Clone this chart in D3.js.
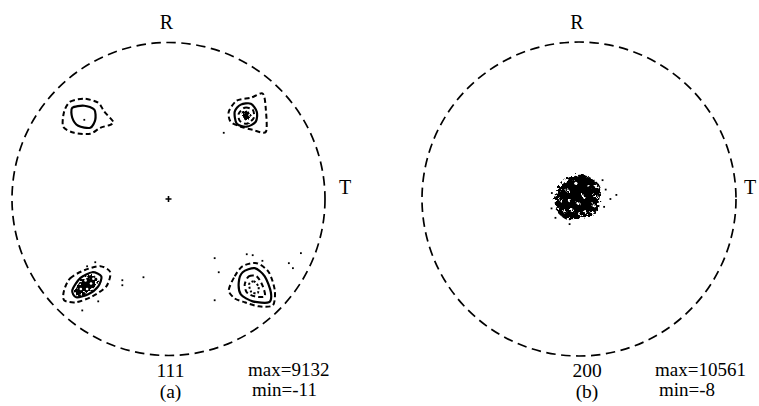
<!DOCTYPE html>
<html>
<head>
<meta charset="utf-8">
<script src="https://cdn.jsdelivr.net/npm/d3@7"></script>
<style>
  body { margin: 0; background: #fff; }
  text { font-family: "Liberation Serif", "Times New Roman", serif; fill: #000; }
</style>
</head>
<body>
<svg id="chart" width="759" height="406"></svg>
<script>
// ---- data (pole figure coordinates, unit circle, y pointing down) ----
const panels = ["a", "b"]
const poleLabels = ["111", "200"]
const panelLabels = ["(a)", "(b)"]
const maxValues = [9132, 10561]
const minValues = [-11, -8]
const axisLabels = ["R", "T"]

// {111} contours, panel (a)
const ulOuter = [[-0.667,-0.558],[-0.628,-0.622],[-0.538,-0.641],[-0.449,-0.615],[-0.410,-0.558],[-0.353,-0.494],[-0.372,-0.474],[-0.436,-0.455],[-0.500,-0.417],[-0.603,-0.423],[-0.673,-0.462]]
const ulInner = [[-0.615,-0.583],[-0.538,-0.596],[-0.474,-0.571],[-0.468,-0.506],[-0.500,-0.455],[-0.577,-0.468],[-0.615,-0.519]]
const urOuter = [[0.385,-0.558],[0.436,-0.628],[0.526,-0.647],[0.603,-0.673],[0.622,-0.571],[0.622,-0.429],[0.538,-0.442],[0.462,-0.462],[0.397,-0.494]]
const urInner = [[0.423,-0.558],[0.462,-0.603],[0.526,-0.609],[0.564,-0.558],[0.558,-0.494],[0.500,-0.462],[0.436,-0.481]]
const urCore = [[0.449,-0.545],[0.487,-0.583],[0.538,-0.571],[0.545,-0.519],[0.500,-0.481],[0.455,-0.500]]
const llOuter = [[-0.667,0.583],[-0.628,0.506],[-0.538,0.455],[-0.436,0.429],[-0.372,0.468],[-0.397,0.558],[-0.487,0.622],[-0.590,0.660],[-0.667,0.647]]
const llInner = [[-0.615,0.583],[-0.564,0.506],[-0.487,0.468],[-0.429,0.494],[-0.449,0.558],[-0.513,0.609],[-0.590,0.628]]
const llCore = [[-0.600,0.595],[-0.560,0.520],[-0.495,0.485],[-0.455,0.510],[-0.475,0.565],[-0.530,0.605],[-0.575,0.620]]
const lrOuter = [[0.385,0.583],[0.423,0.494],[0.474,0.429],[0.564,0.410],[0.641,0.468],[0.679,0.583],[0.667,0.679],[0.577,0.686],[0.487,0.660],[0.423,0.635]]
const lrInner = [[0.449,0.532],[0.474,0.468],[0.551,0.442],[0.615,0.494],[0.654,0.596],[0.641,0.660],[0.538,0.654],[0.462,0.609]]
const lrMid = [[0.487,0.545],[0.513,0.494],[0.564,0.494],[0.603,0.558],[0.615,0.622],[0.551,0.622],[0.500,0.596]]
const lrCore = [[0.515,0.545],[0.545,0.525],[0.575,0.560],[0.570,0.600],[0.530,0.595]]

const aDashed = [ulOuter, urOuter, llOuter, lrOuter, urCore, lrMid]
const aSolid = [ulInner, urInner, llInner, lrInner]
const aDotted = [lrCore]
const aFilled = [llCore, [[0.475,-0.550],[0.505,-0.565],[0.525,-0.525],[0.500,-0.500],[0.480,-0.515]]]
const aSpecks = [[-0.538,-0.506],[0.295,0.378],[0.321,0.468],[0.500,0.353],[0.538,0.359],[0.769,0.410],[0.795,0.442],[0.295,0.647],[-0.468,0.404],[-0.295,0.519],[-0.295,0.551],[-0.449,0.654],[-0.551,0.712],[-0.160,0.500],[0.846,0.346],[0.353,-0.423],[-0.520,0.430],[0.600,0.395]]
const aHoles = [[-0.530,0.520],[-0.495,0.540],[-0.560,0.575],[-0.520,0.575],[-0.480,0.510]]

// {200} central pole, panel (b)
const bBlob = [[-0.141,-0.045],[-0.103,-0.096],[-0.051,-0.135],[0,-0.154],[0.051,-0.147],[0.115,-0.109],[0.141,-0.058],[0.128,0.006],[0.115,0.071],[0.064,0.109],[0,0.122],[-0.077,0.128],[-0.128,0.096],[-0.154,0.032]]
const bHoles = [[-0.006,0.026],[-0.077,-0.058],[0.064,-0.083],[-0.045,0.071],[-0.115,0.006],[0.090,0.038],[0.026,-0.019],[-0.020,-0.100],[0.100,-0.020],[-0.090,0.080],[0.040,0.080],[-0.130,0.060],[0.110,-0.080],[0.010,0.100],[-0.060,0.010]]
const bSpecks = [[0.238,-0.026],[-0.173,-0.038],[0.160,0.050],[-0.150,0.120],[0.150,-0.120],[-0.060,0.160],[0.200,0.000],[0.170,-0.060],[-0.175,0.060]]

// ---- layout ----
const svg = d3.select("#chart")
const geom = [{cx: 168.5, cy: 199, r: 156.5, tOff: 20, lOff: 2}, {cx: 579, cy: 199, r: 157, tOff: 14, lOff: 8}]

const defs = svg.append("defs")
const f = defs.append("filter").attr("id", "rough").attr("x", "-30%").attr("y", "-30%").attr("width", "160%").attr("height", "160%")
f.append("feTurbulence").attr("type", "fractalNoise").attr("baseFrequency", 0.35).attr("numOctaves", 2).attr("seed", 4).attr("result", "n")
f.append("feDisplacementMap").attr("in", "SourceGraphic").attr("in2", "n").attr("scale", 9)

panels.forEach((p, i) => {
  const g = geom[i]
  const x = d3.scaleLinear().domain([-1, 1]).range([g.cx - g.r, g.cx + g.r])
  const y = d3.scaleLinear().domain([-1, 1]).range([g.cy - g.r, g.cy + g.r])
  const line = d3.line().x(d => x(d[0])).y(d => y(d[1])).curve(d3.curveCardinalClosed.tension(0.2))
  const grp = svg.append("g").attr("class", "panel-" + p)

  // dashed projection circle
  grp.append("circle")
    .attr("cx", x(0)).attr("cy", y(0)).attr("r", x(1) - x(0))
    .attr("fill", "none").attr("stroke", "#000")
    .attr("stroke-width", 1.7).attr("stroke-dasharray", "9.5,5.5")

  // R and T labels
  grp.append("text").attr("x", x(0) - 2).attr("y", 29)
    .attr("text-anchor", "middle").attr("font-size", 20).text(axisLabels[0])
  grp.append("text").attr("x", x(1) + g.tOff).attr("y", y(0) - 5)
    .attr("text-anchor", "middle").attr("font-size", 20).text(axisLabels[1])

  // bottom labels
  const lx = x(0) + g.lOff
  grp.append("text").attr("x", lx).attr("y", 377)
    .attr("text-anchor", "middle").attr("font-size", 19.5).text(poleLabels[i])
  grp.append("text").attr("x", lx).attr("y", 398)
    .attr("text-anchor", "middle").attr("font-size", 19.5).text(panelLabels[i])
  const sx = i === 0 ? 248 : 655
  grp.append("text").attr("x", sx).attr("y", 376).attr("font-size", 19).text("max=" + maxValues[i])
  grp.append("text").attr("x", sx + 4).attr("y", 396).attr("font-size", 19).text("min=" + minValues[i])

  if (p === "a") {
    // centre cross
    grp.append("path")
      .attr("d", `M${x(0) - 3},${y(0)}H${x(0) + 3}M${x(0)},${y(0) - 3}V${y(0) + 3}`)
      .attr("stroke", "#000").attr("stroke-width", 1.6)

    grp.selectAll(".dashed").data(aDashed).join("path")
      .attr("d", line).attr("fill", "none").attr("stroke", "#000")
      .attr("stroke-width", 2).attr("stroke-dasharray", "5,3")
    grp.selectAll(".solid").data(aSolid).join("path")
      .attr("d", line).attr("fill", "none").attr("stroke", "#000").attr("stroke-width", 2.2)
    grp.selectAll(".dotted").data(aDotted).join("path")
      .attr("d", line).attr("fill", "none").attr("stroke", "#000")
      .attr("stroke-width", 2).attr("stroke-dasharray", "2,2")
    grp.selectAll(".core").data(aFilled).join("path")
      .attr("d", line).attr("fill", "#000").attr("filter", "url(#rough)")
    grp.selectAll(".hole").data(aHoles).join("circle")
      .attr("cx", d => x(d[0])).attr("cy", d => y(d[1])).attr("r", 1.3).attr("fill", "#fff")
    grp.selectAll(".speck").data(aSpecks).join("rect")
      .attr("x", d => x(d[0]) - 0.9).attr("y", d => y(d[1]) - 0.9)
      .attr("width", 1.8).attr("height", 1.8).attr("fill", "#000")
  } else {
    grp.append("path").datum(bBlob)
      .attr("d", line).attr("fill", "#000").attr("filter", "url(#rough)")
    grp.selectAll(".hole").data(bHoles).join("circle")
      .attr("cx", d => x(d[0])).attr("cy", d => y(d[1])).attr("r", 1.6)
      .attr("fill", "#fff").attr("filter", "url(#rough)")
    grp.selectAll(".speck").data(bSpecks).join("rect")
      .attr("x", d => x(d[0]) - 0.9).attr("y", d => y(d[1]) - 0.9)
      .attr("width", 1.8).attr("height", 1.8).attr("fill", "#000")
  }
})
</script>
</body>
</html>
